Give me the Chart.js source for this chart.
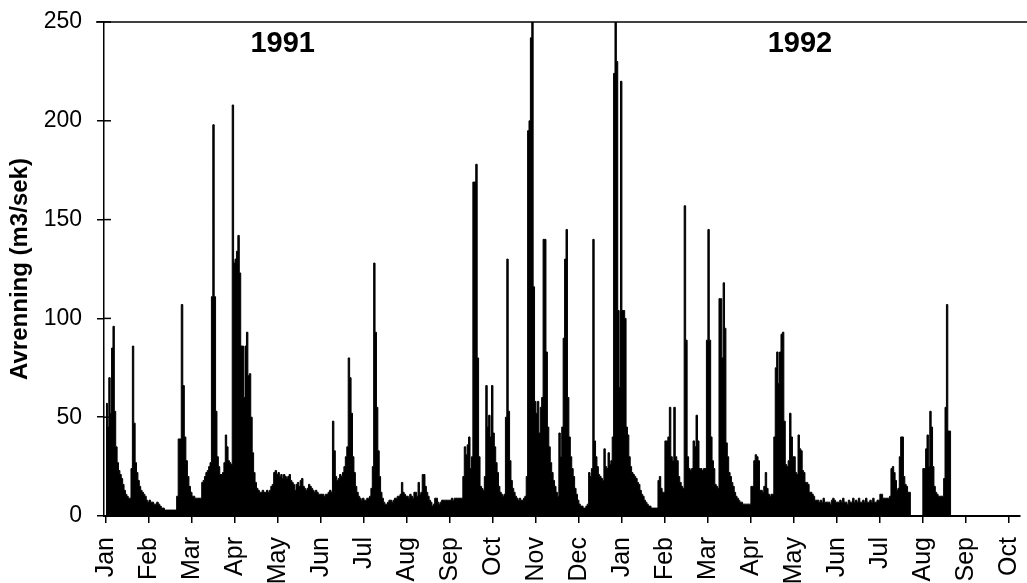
<!DOCTYPE html>
<html><head><meta charset="utf-8">
<script src="https://cdn.jsdelivr.net/npm/chart.js@4"></script>
<style>html,body{margin:0;padding:0;background:#fff;}#wrap{width:1027px;height:583px;}</style>
</head><body><div id="wrap"><canvas id="c" width="1027" height="583"></canvas></div>
<script>
// Month tick labels (Jan 1991 .. Oct 1992), equally spaced
const monthLabels = ['Jan','Feb','Mar','Apr','May','Jun','Jul','Aug','Sep','Oct','Nov','Dec',
                     'Jan','Feb','Mar','Apr','May','Jun','Jul','Aug','Sep','Oct'];
const daysInMonth = [31,28,31,30,31,30,31,31,30,31,30,31, 31,29,31,30,31,30,31,31,30,31];
const yTicks = [0,50,100,150,200,250];
const yearLabels = ['1991','1992'];

// Daily runoff (m3/sek), one array per month
const jan91 = [57,45,70,52,85,96,53,35,27,23,21,19,16,13,11,10,9,9,24,86,47,27,22,18,15,13,12,11,10,8,7];
const feb91 = [8,7,7,6,6,7,6,5,4,4,3,3,3,3,3,3,3,3,10,39,39,107,66,40,28,20,15,12];
const mar91 = [10,10,9,9,9,9,9,17,18,20,22,23,25,27,111,198,111,53,30,25,21,21,22,27,41,35,28,27,26,208,128];
const apr91 = [130,134,142,123,86,86,60,86,93,71,72,50,32,22,17,14,13,12,12,13,12,12,13,12,13,15,16,22,23,21];
const may91 = [22,20,21,19,21,20,19,20,21,18,17,16,13,16,17,15,18,19,15,14,13,14,16,15,14,13,12,13,12,11,11];
const jun91 = [11,11,10,11,11,12,13,12,48,33,20,18,19,21,20,22,25,30,35,80,70,52,30,22,15,12,10,9,8,9];
const jul91 = [8,8,9,9,10,14,25,128,93,55,33,20,12,9,7,6,6,7,8,8,7,8,9,9,10,10,11,17,12,11,10];
const aug91 = [10,9,11,10,9,12,12,10,17,11,12,21,21,15,12,10,8,7,5,6,9,9,7,6,7,8,8,8,8,8,8];
const sep91 = [8,9,8,9,9,9,9,9,9,20,35,31,36,40,24,30,169,169,178,80,30,15,14,13,20,66,45,51,40,66];
const oct91 = [42,35,27,22,15,12,11,10,11,50,130,53,28,18,14,12,10,9,8,9,8,8,9,10,20,195,200,242,270,116,58];
const nov91 = [52,58,42,55,60,140,140,83,45,35,27,22,18,15,12,10,42,30,45,90,130,145,60,40,30,24,20,14,11,8];
const dec91 = [6,5,5,4,4,5,6,22,20,24,140,38,30,25,21,20,19,18,34,25,24,32,26,28,40,224,265,230,104,65,220];
const jan92 = [104,104,100,45,41,30,25,22,21,20,19,17,16,13,11,10,8,7,6,5,5,4,4,4,4,4,18,20,14,12,12];
const feb92 = [38,38,40,55,30,28,55,30,28,20,17,15,14,157,89,30,24,23,24,38,35,51,38,24,24,23,24,24,89];
const mar92 = [145,89,40,28,24,16,15,14,110,110,80,118,95,37,30,22,20,17,15,12,10,9,8,7,7,6,6,6,6,6,6];
const apr92 = [15,15,28,31,30,28,13,13,12,15,22,14,11,10,11,11,40,75,83,67,83,92,93,48,26,25,28,52,40,30];
const may92 = [30,22,21,41,34,33,23,22,17,17,16,12,12,11,10,8,8,8,7,8,7,9,7,7,7,7,6,8,9,8,7];
const jun92 = [7,7,8,7,9,7,7,6,8,7,7,9,7,8,7,9,7,7,8,7,9,7,7,8,7,9,7,7,8,8];
const jul92 = [11,11,9,9,9,9,9,10,24,25,22,18,13,14,30,40,40,20,16,15,12,12,0,0,0,0,0,0,0,0,0];
const aug92 = [24,24,34,41,25,53,45,25,15,12,11,10,10,10,10,19,55,107,43,43];

const monthlyValues = [jan91,feb91,mar91,apr91,may91,jun91,jul91,aug91,sep91,oct91,nov91,dec91,
                       jan92,feb92,mar92,apr92,may92,jun92,jul92,aug92];

const points = [];
monthlyValues.forEach((vals, m) => {
  vals.forEach((v, d) => points.push({x: m + d / daysInMonth[m], y: v}));
});
const lastM = monthlyValues.length - 1;
points.push({x: lastM + monthlyValues[lastM].length / daysInMonth[lastM], y: 0});

const FONT = 'Liberation Sans';

const extras = {
  id: 'extras',
  afterDraw(chart, args, opts) {
    const {ctx, chartArea: a, scales: {x, y}} = chart;
    ctx.save();
    ctx.strokeStyle = '#000';
    ctx.lineWidth = 1.5;
    ctx.beginPath();
    ctx.moveTo(a.left - 8, a.top);
    ctx.lineTo(chart.width, a.top);
    ctx.stroke();
    yTicks.forEach(v => {
      const py = y.getPixelForValue(v);
      ctx.beginPath(); ctx.moveTo(a.left, py); ctx.lineTo(a.left + 7, py); ctx.stroke();
    });
    ctx.fillStyle = '#000';
    ctx.font = 'bold 29px "' + FONT + '"';
    ctx.textAlign = 'center';
    ctx.textBaseline = 'middle';
    opts.labels.forEach((t, i) => {
      ctx.fillText(t, x.getPixelForValue(opts.xs[i]), y.getPixelForValue(opts.y));
    });
    ctx.restore();
  }
};

new Chart(document.getElementById('c'), {
  type: 'line',
  data: {
    datasets: [{
      data: points,
      stepped: true,
      fill: 'origin',
      backgroundColor: '#000',
      borderColor: '#000',
      borderWidth: 1,
      pointRadius: 0,
      tension: 0
    }]
  },
  options: {
    responsive: false,
    animation: false,
    layout: { padding: { top: 22, right: 7, left: 0, bottom: 0 } },
    plugins: {
      legend: { display: false },
      tooltip: { enabled: false },
      extras: { labels: yearLabels, xs: [4.11, 16.14], y: 239 }
    },
    scales: {
      x: {
        type: 'linear',
        min: -0.047,
        max: 21.26,
        afterBuildTicks: s => { s.ticks = monthLabels.map((_, i) => ({value: i})); },
        afterFit: s => { s.height = 67; s.paddingLeft = 0; s.paddingRight = 0; },
        ticks: {
          autoSkip: false, maxRotation: 90, minRotation: 90, padding: 14,
          color: '#000', font: { family: FONT, size: 25 },
          callback: v => monthLabels[v] ?? ''
        },
        grid: { drawOnChartArea: false, drawTicks: true, tickLength: 7, color: '#000', lineWidth: 1.5 },
        border: { display: true, color: '#000', width: 2 }
      },
      y: {
        min: 0,
        max: 250,
        afterBuildTicks: s => { s.ticks = yTicks.map(v => ({value: v})); },
        afterFit: s => { s.width = 104; s.paddingTop = 0; s.paddingBottom = 0; },
        ticks: { padding: 15, color: '#000', font: { family: FONT, size: 23 } },
        grid: { drawOnChartArea: false, drawTicks: true, tickLength: 7, color: '#000', lineWidth: 1.5 },
        border: { display: true, color: '#000', width: 1.5 },
        title: {
          display: true, text: 'Avrenning (m3/sek)', color: '#000',
          font: { family: FONT, size: 24, weight: 'bold' },
          padding: { top: 6, bottom: 0 }
        }
      }
    }
  },
  plugins: [extras]
});
</script>
</body></html>
